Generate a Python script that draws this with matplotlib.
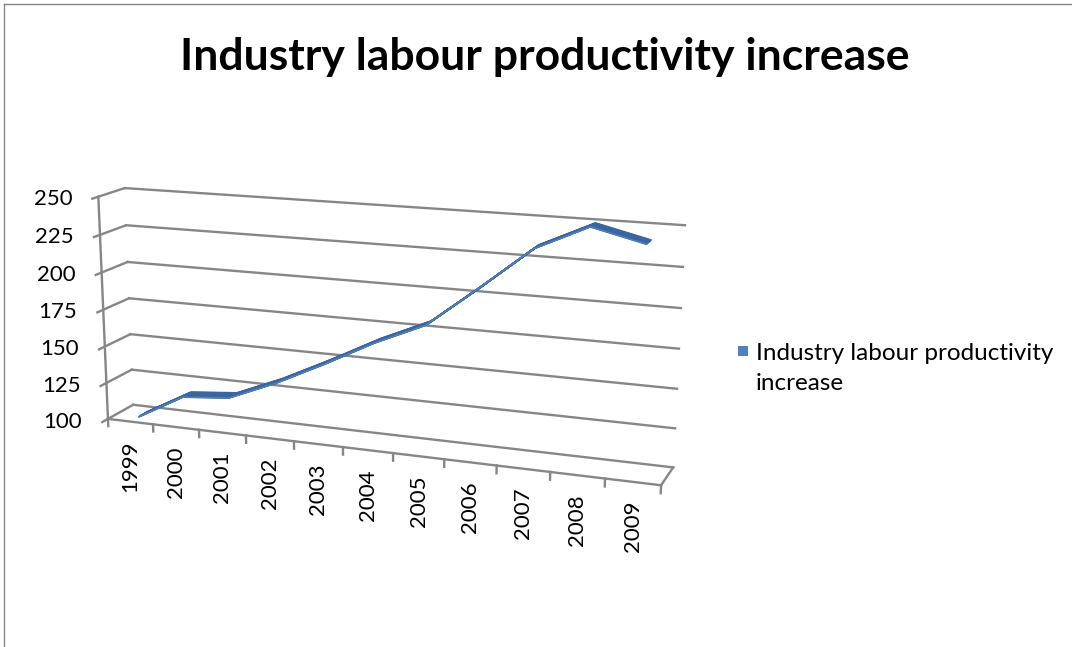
import numpy as np
import matplotlib
matplotlib.use('Agg')
import matplotlib.pyplot as plt
from matplotlib.transforms import Transform, offset_copy
from matplotlib.patches import Rectangle

# ---------------- data ----------------
years = ['1999', '2000', '2001', '2002', '2003', '2004', '2005', '2006', '2007', '2008', '2009']
productivity = [100, 117.5, 120.5, 134, 150, 167, 181.5, 207.5, 234.5, 250, 242]
value_ticks = [100, 125, 150, 175, 200, 225, 250]
chart_title = 'Industry labour productivity increase'
series_name = 'Industry labour productivity\nincrease'

# ---------------- figure ----------------
W, H = 1072, 647
fig = plt.figure(figsize=(W / 100, H / 100), dpi=100)
ax = fig.add_axes([0, 0, 1, 1])
ax.set_xlim(0, W)
ax.set_ylim(H, 0)
ax.axis('off')

FONT = ['Lato', 'DejaVu Sans']
GRID = '#868686'
ZMIN, ZMAX = value_ticks[0], value_ticks[-1]
ZR = ZMAX - ZMIN
NCAT = len(years)

# ---- 3D camera fitted to the plot-box layout (X=category, D=depth, z=normalized value)
box_world = np.array([[0, 0, 0], [NCAT, 0, 0], [0, 1, 0], [NCAT, 1, 0],
                      [0, 1, 1], [NCAT, 1, 1], [0, 0, 1],
                      [3, 0, 0], [5, 0, 0], [8, 0, 0]], float)
box_screen = np.array([[108, 419], [661, 485], [133, 404.5], [673, 468],
                       [125, 188], [685, 225], [98, 197],
                       [246, 435.5], [343, 447.0], [497, 465.4]], float)
rows = []
for (Xw, Dw, zw), (u, v) in zip(box_world, box_screen):
    p = np.array([Xw, Dw, zw, 1.0])
    rows.append(np.concatenate([p, np.zeros(4), -u * p]))
    rows.append(np.concatenate([np.zeros(4), p, -v * p]))
_, _, Vt = np.linalg.svd(np.array(rows))
P = Vt[-1].reshape(3, 4)


class PlaneProjection(Transform):
    """Perspective projection of one plane of the 3D chart box onto the canvas."""
    input_dims = 2
    output_dims = 2
    is_separable = False

    def __init__(self, Hm):
        super().__init__()
        self._H = Hm

    def transform_non_affine(self, values):
        v = np.atleast_2d(np.asarray(values, float))
        h = np.column_stack([v, np.ones(len(v))]) @ self._H.T
        return h[:, :2] / h[:, 2:3]


def back_plane(d):   # input (category X, value) at depth d
    M = np.array([[1, 0, 0], [0, 0, d], [0, 1 / ZR, -ZMIN / ZR], [0, 0, 1]], float)
    return PlaneProjection(P @ M) + ax.transData


def side_plane(x0):  # input (depth, value) at category coordinate x0
    M = np.array([[0, 0, x0], [1, 0, 0], [0, 1 / ZR, -ZMIN / ZR], [0, 0, 1]], float)
    return PlaneProjection(P @ M) + ax.transData


def floor_plane(zv):  # input (category X, depth) at value zv
    M = np.array([[1, 0, 0], [0, 1, 0], [0, 0, (zv - ZMIN) / ZR], [0, 0, 1]], float)
    return PlaneProjection(P @ M) + ax.transData


gkw = dict(color=GRID, lw=1.7, solid_capstyle='projecting')

# back wall gridlines
for t in value_ticks:
    ax.plot([0, NCAT], [t, t], transform=back_plane(1.0), **gkw)
# side wall gridlines + value-axis tick marks
for t in value_ticks:
    ax.plot([-0.22, 1.0], [t, t], transform=side_plane(0.0), **gkw)
# value axis line
ax.plot([0, 0], [ZMIN, ZMAX], transform=back_plane(0.0), **gkw)
# floor front and right edges
ax.plot([0, NCAT], [0, 0], transform=floor_plane(ZMIN), **gkw)
ax.plot([NCAT, NCAT], [0, 1], transform=floor_plane(ZMIN), **gkw)
# category tick marks
for k in range(NCAT + 1):
    ax.plot([k, k], [ZMIN, ZMIN - 5], transform=back_plane(0.0), **gkw)

# value labels
for t in value_ticks:
    tr = offset_copy(side_plane(0.0), fig=fig, x=-20, y=0, units='dots')
    ax.text(-0.22, t, str(t), transform=tr, ha='right', va='center',
            fontsize=16, family=FONT, color='black')

# category labels
xpos = np.arange(NCAT) + 0.5
for x, lab in zip(xpos, years):
    tr = offset_copy(back_plane(0.0), fig=fig, x=0, y=-19, units='dots')
    ax.text(x, ZMIN, lab, transform=tr, rotation=90, ha='center', va='top',
            fontsize=16, family=FONT, color='black')

# series ribbon (spans part of the depth)
d1, d2 = 0.313, 0.67
for d in np.linspace(d2, d1, 14):
    ax.plot(xpos, productivity, transform=back_plane(d), color='#3b659e', lw=1.3,
            solid_joinstyle='miter', solid_capstyle='butt')
ax.plot(xpos, productivity, transform=back_plane(d1), color='#4f81bd', lw=1.0,
        solid_joinstyle='miter', solid_capstyle='butt')

# title
ax.text(545, 57, chart_title, ha='center', va='center', fontsize=32,
        fontweight='bold', family=FONT, color='black')

# legend
ax.add_patch(Rectangle((738, 346), 10, 10, facecolor='#4f81bd', edgecolor='none'))
ax.text(756, 354, series_name, ha='left', va='top', fontsize=17.5, family=FONT,
        color='black', linespacing=1.5,
        transform=offset_copy(ax.transData, fig=fig, x=0, y=11, units='dots'))

# chart border (top and left)
ax.plot([4, W], [4, 4], color=GRID, lw=1.0)
ax.plot([4, 4], [4, H], color=GRID, lw=1.0)

fig.savefig('out.png', dpi=100)
